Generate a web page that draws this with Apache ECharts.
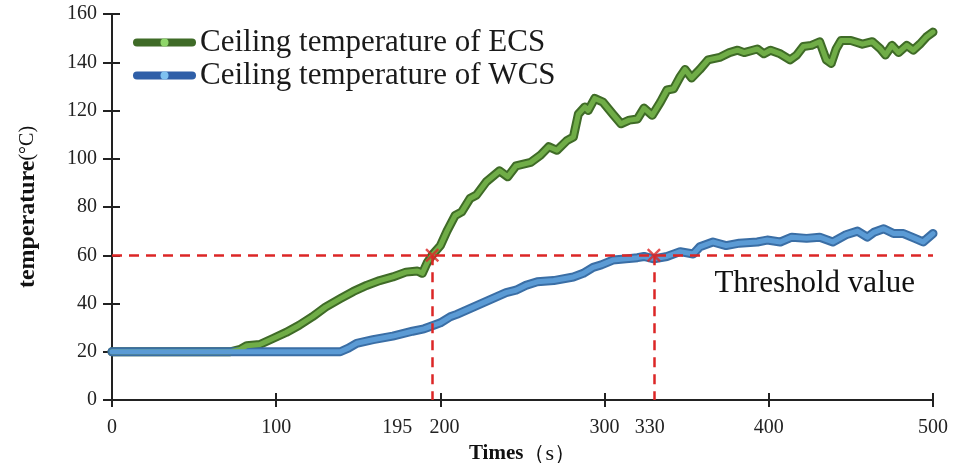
<!DOCTYPE html>
<html>
<head>
<meta charset="utf-8">
<script src="https://cdn.jsdelivr.net/npm/echarts@6/dist/echarts.min.js"></script>
<style>
html,body{margin:0;padding:0;background:#fff;}
#chart{width:957px;height:463px;}
</style>
</head>
<body>
<div id="chart"></div>
<script>
// ---- data ----
const ecsTime = [0,40,72,78,82,90,98,106,114,122,130,139,147,155,163,171,179,186,189,192,195.5,200,204,209,213,218,222,228,236,241,246,255,261,266,271,277,281,284,288,290,294,299,305,310,315,320,324,329,334,338,342,346,349,353,358,363,370,376,381,385,393,397,401,407,413,417,421,426,431,435,438,441,444,450,457,463,468,471,475,479,484,488,492,496,500];
const ecsTemp = [20,20,20,21,22.5,23,25.5,28,31,34.5,38.5,42,45,47.5,49.5,51,53,53.5,52.5,57,60.5,64,70,76.5,78,83.5,85,90.5,95,92.5,97,98.5,101.5,105,103.5,107.5,109,118.5,121.5,120,125,123.5,118.5,114.5,116,116.5,121,118,123.5,128.5,129,134,137,133.5,137,141,142,144,145,144,145.5,143.5,145,143.5,141,143,146.5,147,148.5,141,139.5,145.5,149,149,147.5,148.5,145.5,143,147,144,147,145,147.5,150.5,152.5];
const wcsTime = [0,60,139,144,149,159,171,183,190,196,200,206,210,220,230,240,246,252,259,269,281,287,293,298,305,313,320,324,330,338,346,354,358,366,374,382,393,399,407,414,423,431,439,447,454,460,464,470,476,482,489,494,500];
const wcsTemp = [20,20,20,21.5,23.5,25,26.5,28.5,29.5,31,32,34.5,35.5,38.5,41.5,44.5,45.5,47.5,49,49.5,51,52.5,55,56,58,58.5,59,59.5,58.5,59.5,61.5,60.5,63.5,65.5,64,65,65.5,66.3,65.5,67.5,67,67.5,65.5,68.5,70,67.5,69.5,71,69,69,67,65.5,69];
const seriesNames = ['Ceiling temperature of ECS', 'Ceiling temperature of WCS'];
const xTickValues = [0,100,200,300,400,500];
const thresholdTimes = [195, 330];
const thresholdTemp = 60;
const thresholdText = 'Threshold value';

const zip = (a, b) => a.map((v, i) => [v, b[i]]);
const ecsData = zip(ecsTime, ecsTemp);
const wcsData = zip(wcsTime, wcsTemp);

const SERIF = '"Liberation Serif","Times New Roman",serif';
const RED = '#dc2626';
const GREEN = '#70ad47', GREEN_D = '#3f6b27';
const BLUE = '#5b9bd5', BLUE_D = '#3a6ea5';

const labelShift = {195: -35, 200: 4, 330: -4};
const richStyles = {};
Object.keys(labelShift).forEach(k => {
  const s = labelShift[k];
  richStyles['s' + k] = {
    fontSize: 20, fontFamily: SERIF, color: '#222',
    padding: s < 0 ? [0, -2 * s, 0, 0] : [0, 0, 0, 2 * s]
  };
});

const chart = echarts.init(document.getElementById('chart'), null, {renderer: 'canvas'});
const baseX = {type: 'value', min: 0, max: 500, interval: 100, gridIndex: 0};
const baseY = {type: 'value', min: 0, max: 160, interval: 20, gridIndex: 0};

chart.setOption({
  animation: false,
  backgroundColor: '#fff',
  grid: {left: 112, right: 24, top: 14, bottom: 63, containLabel: false, outerBoundsMode: 'none'},
  legend: {
    orient: 'vertical', left: 133, top: 26, padding: 0, itemGap: 0,
    itemWidth: 55, itemHeight: 10,
    textStyle: {fontSize: 31, fontFamily: SERIF, color: '#1a1a1a', lineHeight: 33, padding: [0, 0, 0, 3]},
    data: [
      {name: seriesNames[0], lineStyle: {color: GREEN_D, width: 8, cap: 'round'}, itemStyle: {color: '#8fd66a'}},
      {name: seriesNames[1], lineStyle: {color: '#2f5fa8', width: 8, cap: 'round'}, itemStyle: {color: '#7fc1f0'}}
    ]
  },
  xAxis: [
    Object.assign({}, baseX, {
      position: 'bottom',
      name: '{b|Times}{n|（s）}', nameLocation: 'middle', nameGap: 31,
      nameTextStyle: {rich: {
        b: {fontSize: 21, fontWeight: 'bold', fontFamily: SERIF, color: '#111'},
        n: {fontSize: 22, fontFamily: SERIF, color: '#111'}
      }},
      axisLine: {show: true, lineStyle: {color: '#222', width: 2}},
      axisTick: {show: true, inside: false, length: 7, lineStyle: {color: '#222', width: 2}, customValues: xTickValues},
      axisLabel: {
        margin: 18, fontSize: 20, fontFamily: SERIF, color: '#222',
        customValues: xTickValues.concat(thresholdTimes).sort((a, b) => a - b),
        formatter: v => labelShift[v] !== undefined ? '{s' + v + '|' + v + '}' : String(v),
        rich: richStyles
      },
      splitLine: {show: false}
    }),
    Object.assign({}, baseX, {
      position: 'bottom',
      axisLine: {show: false},
      axisTick: {show: true, inside: true, length: 7, lineStyle: {color: '#222', width: 2}},
      axisLabel: {show: false}, splitLine: {show: false}
    })
  ],
  yAxis: [
    Object.assign({}, baseY, {
      position: 'left',
      name: '{b|temperature}{n|(°C)}', nameLocation: 'middle', nameGap: 72, nameRotate: 90,
      nameTextStyle: {rich: {
        b: {fontSize: 24, fontWeight: 'bold', fontFamily: SERIF, color: '#111'},
        n: {fontSize: 20, fontFamily: SERIF, color: '#111'}
      }},
      axisLine: {show: true, lineStyle: {color: '#222', width: 2}},
      axisTick: {show: true, inside: false, length: 9, lineStyle: {color: '#222', width: 2}},
      axisLabel: {margin: 15, fontSize: 20, fontFamily: SERIF, color: '#222'},
      splitLine: {show: false}
    }),
    Object.assign({}, baseY, {
      position: 'left',
      axisLine: {show: false},
      axisTick: {show: true, inside: true, length: 8, lineStyle: {color: '#222', width: 2}},
      axisLabel: {show: false}, splitLine: {show: false}
    })
  ],
  series: [
    {
      name: 'ECS outline', type: 'line', data: ecsData, showSymbol: false, symbol: 'none',
      lineStyle: {color: GREEN_D, width: 9, cap: 'round', join: 'round'}, z: 3, silent: true
    },
    {
      name: seriesNames[0], type: 'line', data: ecsData, showSymbol: false, symbol: 'circle', symbolSize: 6,
      itemStyle: {color: GREEN}, lineStyle: {color: GREEN, width: 5, cap: 'round', join: 'round'}, z: 4
    },
    {
      name: 'WCS outline', type: 'line', data: wcsData, showSymbol: false, symbol: 'none',
      lineStyle: {color: BLUE_D, width: 9, cap: 'round', join: 'round'}, z: 3, silent: true
    },
    {
      name: seriesNames[1], type: 'line', data: wcsData, showSymbol: false, symbol: 'circle', symbolSize: 6,
      itemStyle: {color: BLUE}, lineStyle: {color: BLUE, width: 5, cap: 'round', join: 'round'}, z: 4,
      markLine: {
        silent: true, symbol: ['none', 'none'], z: 5,
        lineStyle: {color: RED, width: 2.5, type: [10, 7]},
        data: [
          [{coord: [0, thresholdTemp], label: {show: true, position: 'insideEndBottom', formatter: thresholdText,
             fontSize: 31, fontFamily: SERIF, color: '#111', distance: [18, 13]}},
           {coord: [500, thresholdTemp]}],
          [{coord: [thresholdTimes[0], thresholdTemp], label: {show: false}}, {coord: [thresholdTimes[0], 0]}],
          [{coord: [thresholdTimes[1], thresholdTemp], label: {show: false}}, {coord: [thresholdTimes[1], 0]}]
        ]
      }
    },
    {
      name: 'crossing', type: 'scatter', z: 6, silent: true,
      data: thresholdTimes.map(t => [t, thresholdTemp]),
      symbol: 'path://M1.2,0L5,3.8L8.8,0L10,1.2L6.2,5L10,8.8L8.8,10L5,6.2L1.2,10L0,8.8L3.8,5L0,1.2Z', symbolSize: 14,
      itemStyle: {color: RED}
    }
  ]
});
</script>
</body>
</html>
